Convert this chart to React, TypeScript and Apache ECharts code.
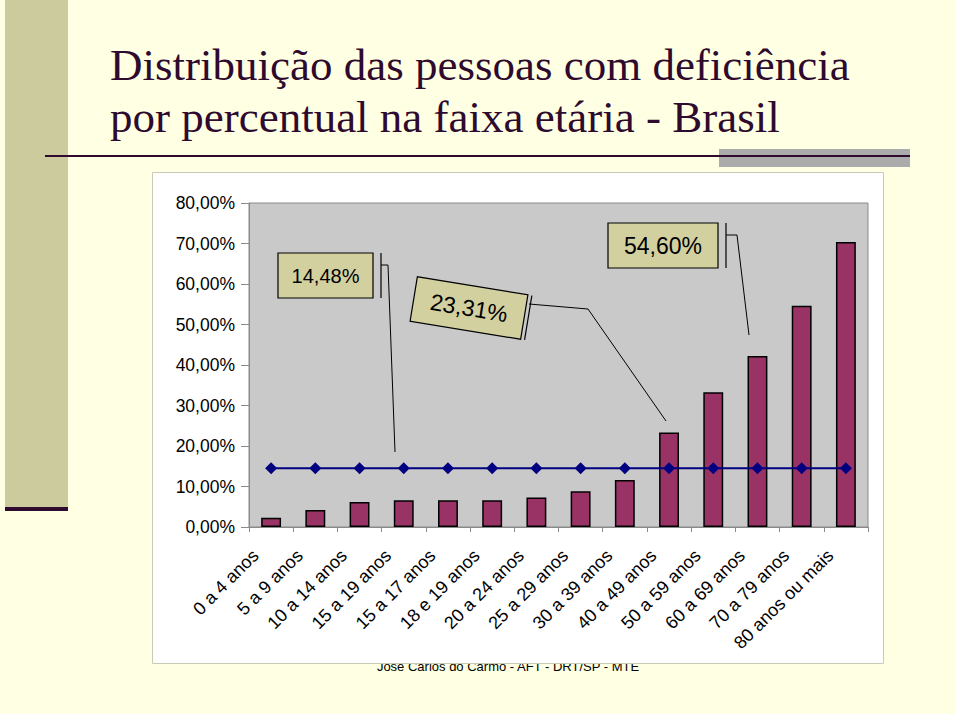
import React, { useEffect, useRef } from "react";
import * as echarts from "echarts";

const categories = [
  "0 a 4 anos",
  "5 a 9 anos",
  "10 a 14 anos",
  "15 a 19 anos",
  "15 a 17 anos",
  "18 e 19 anos",
  "20 a 24 anos",
  "25 a 29 anos",
  "30 a 39 anos",
  "40 a 49 anos",
  "50 a 59 anos",
  "60 a 69 anos",
  "70 a 79 anos",
  "80 anos ou mais",
];

// percentage of people with disabilities in each age group
const shareValues = [2.3, 4.2, 6.2, 6.6, 6.6, 6.6, 7.3, 8.8, 11.6, 23.31, 33.3, 42.2, 54.6, 70.4];

// national average, drawn as a flat line
const averageValues = categories.map(() => 14.48);

const yTicks = [0, 10, 20, 30, 40, 50, 60, 70, 80];

const calloutLabels = ["14,48%", "23,31%", "54,60%"];

const titleLines = [
  "Distribuição das pessoas com deficiência",
  "por percentual na faixa etária - Brasil",
];

const footerText = "José Carlos do Carmo - AFT - DRT/SP - MTE";

const SANS = "'Liberation Sans', Arial, sans-serif";
const SERIF = "'Liberation Serif', 'Times New Roman', serif";
const CREAM = "#FFFFE3";
const OLIVE = "#CCCB9D";
const DARK = "#2E0A2E";
const KHAKI = "#D3D0A0";

export default function App() {
  const ref = useRef<HTMLDivElement>(null);

  useEffect(() => {
    if (!ref.current) return;
    const chart = echarts.init(ref.current, null, { renderer: "svg" });

    const fmt = (v: number) => v.toFixed(2).replace(".", ",") + "%";

    const option: any = {
      animation: false,
      backgroundColor: "#FFFFFF",
      grid: {
        show: true,
        left: 249,
        right: 92,
        top: 203,
        bottom: 190,
        backgroundColor: "#C9C9C9",
        borderColor: "#8A8A8A",
        borderWidth: 1,
        z: 2,
      },
      xAxis: {
        type: "category",
        data: categories,
        z: 3,
        axisLine: { show: true, lineStyle: { color: "#8A8A8A", width: 1 } },
        axisTick: { show: true, length: 5, lineStyle: { color: "#8A8A8A" } },
        axisLabel: {
          rotate: 45,
          margin: 10,
          padding: [0, 22, 0, 0],
          fontFamily: SANS,
          fontSize: 18,
          color: "#000",
          interval: 0,
        },
      },
      yAxis: {
        type: "value",
        min: yTicks[0],
        max: yTicks[yTicks.length - 1],
        interval: 10,
        z: 3,
        axisLine: { show: true, lineStyle: { color: "#8A8A8A", width: 1 } },
        axisTick: { show: true, length: 8, lineStyle: { color: "#8A8A8A" } },
        splitLine: { show: false },
        axisLabel: {
          margin: 14,
          fontFamily: SANS,
          fontSize: 17.5,
          color: "#000",
          formatter: (v: number) => fmt(v),
        },
      },
      series: [
        {
          type: "bar",
          data: shareValues,
          barWidth: "45%",
          z: 4,
          itemStyle: { color: "#993366", borderColor: "#000", borderWidth: 1.5 },
        },
        {
          type: "line",
          data: averageValues,
          z: 5,
          symbol: "diamond",
          symbolSize: 12,
          lineStyle: { color: "#000080", width: 2 },
          itemStyle: { color: "#000080" },
        },
      ],
      graphic: [
        // slide background
        { type: "rect", z: -10, shape: { x: 0, y: 0, width: 955, height: 714 }, style: { fill: CREAM } },
        { type: "rect", z: -9, shape: { x: 5, y: 0, width: 63, height: 507 }, style: { fill: OLIVE } },
        { type: "rect", z: -9, shape: { x: 5, y: 507, width: 63, height: 4 }, style: { fill: DARK } },
        // title rule
        { type: "rect", z: -9, shape: { x: 719, y: 149, width: 191, height: 18 }, style: { fill: "#ABABAB" } },
        { type: "rect", z: -8, shape: { x: 45, y: 155, width: 865, height: 2 }, style: { fill: DARK } },
        // title
        {
          type: "text",
          z: -8,
          x: 110,
          y: 65,
          style: { text: titleLines[0], font: `45px ${SERIF}`, fill: DARK, verticalAlign: "middle" },
        },
        {
          type: "text",
          z: -8,
          x: 110,
          y: 117,
          style: { text: titleLines[1], font: `45px ${SERIF}`, fill: DARK, verticalAlign: "middle" },
        },
        // footer (partly hidden behind the chart box)
        {
          type: "text",
          z: -7,
          x: 508,
          y: 666.5,
          style: { text: footerText, font: `13px ${SANS}`, fill: "#000", align: "center", verticalAlign: "middle" },
        },
        // chart box
        {
          type: "rect",
          z: -6,
          shape: { x: 152.5, y: 172.5, width: 731, height: 491 },
          style: { fill: "#FFFFFF", stroke: "#C9C9B5", lineWidth: 1 },
        },
        // callout 1
        {
          type: "rect",
          z: 20,
          shape: { x: 278, y: 253, width: 95, height: 45 },
          style: { fill: KHAKI, stroke: "#000", lineWidth: 1.2 },
        },
        {
          type: "text",
          z: 21,
          x: 325.5,
          y: 275.5,
          style: { text: calloutLabels[0], font: `20px ${SANS}`, fill: "#000", align: "center", verticalAlign: "middle" },
        },
        { type: "line", z: 20, shape: { x1: 381, y1: 253, x2: 381, y2: 298 }, style: { stroke: "#000", lineWidth: 1.2 } },
        {
          type: "polyline",
          z: 20,
          shape: { points: [[381, 265], [388, 265], [395, 452]] },
          style: { stroke: "#000", lineWidth: 1, fill: "none" },
        },
        // callout 2 (tilted)
        {
          type: "group",
          z: 20,
          x: 469,
          y: 308,
          rotation: (-9.3 * Math.PI) / 180,
          children: [
            {
              type: "rect",
              z: 20,
              shape: { x: -56, y: -22.5, width: 112, height: 45 },
              style: { fill: KHAKI, stroke: "#000", lineWidth: 1.2 },
            },
            {
              type: "text",
              z: 21,
              x: 0,
              y: 0,
              style: { text: calloutLabels[1], font: `23px ${SANS}`, fill: "#000", align: "center", verticalAlign: "middle" },
            },
            { type: "line", z: 20, shape: { x1: 60, y1: -22.5, x2: 60, y2: 22.5 }, style: { stroke: "#000", lineWidth: 1.2 } },
          ],
        },
        {
          type: "polyline",
          z: 20,
          shape: { points: [[529, 304], [588, 309], [666, 421]] },
          style: { stroke: "#000", lineWidth: 1, fill: "none" },
        },
        // callout 3
        {
          type: "rect",
          z: 20,
          shape: { x: 608, y: 223, width: 110, height: 45 },
          style: { fill: KHAKI, stroke: "#000", lineWidth: 1.2 },
        },
        {
          type: "text",
          z: 21,
          x: 663,
          y: 245.5,
          style: { text: calloutLabels[2], font: `23px ${SANS}`, fill: "#000", align: "center", verticalAlign: "middle" },
        },
        { type: "line", z: 20, shape: { x1: 726, y1: 223, x2: 726, y2: 268 }, style: { stroke: "#000", lineWidth: 1.2 } },
        {
          type: "polyline",
          z: 20,
          shape: { points: [[726, 235], [737, 235], [749, 335]] },
          style: { stroke: "#000", lineWidth: 1, fill: "none" },
        },
      ],
    };

    chart.setOption(option);
    return () => chart.dispose();
  }, []);

  return (
    <div
      ref={ref}
      style={{ position: "absolute", left: 0, top: 0, width: 960, height: 717 }}
    />
  );
}
